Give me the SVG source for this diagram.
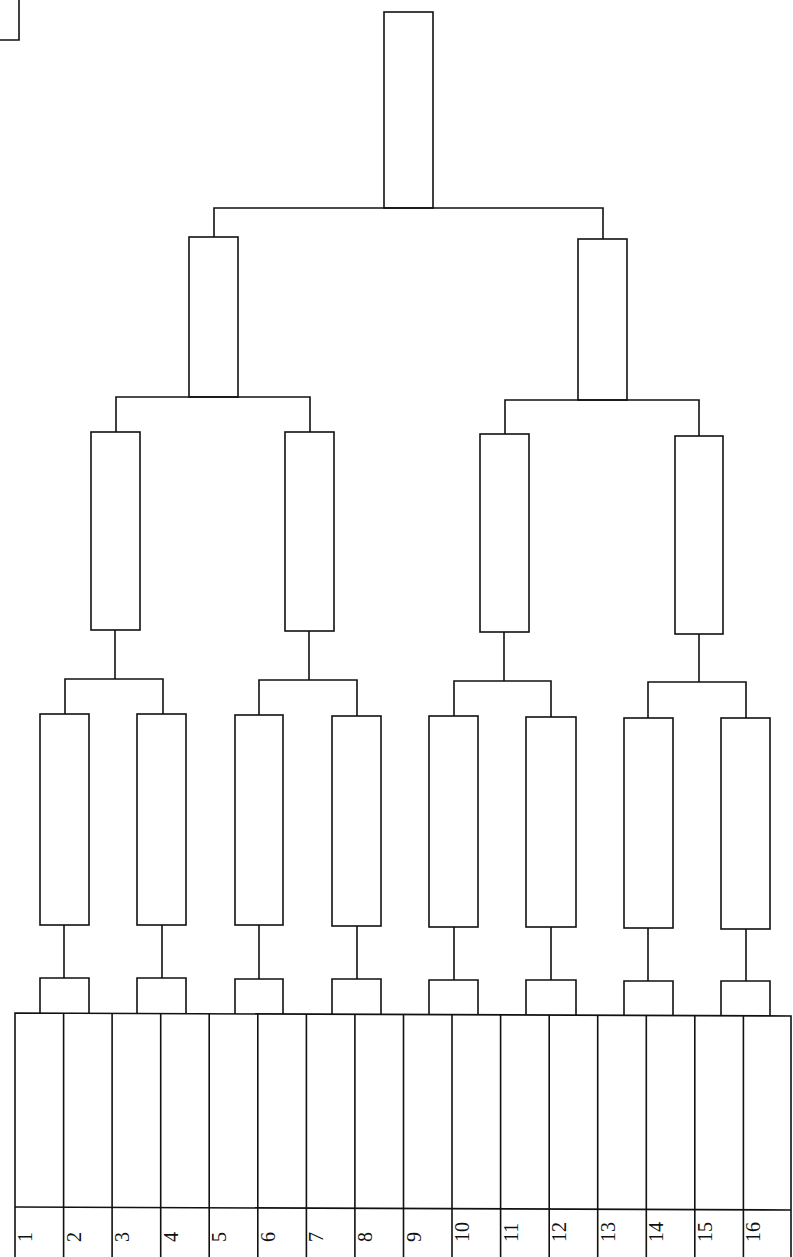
<svg xmlns="http://www.w3.org/2000/svg" width="793" height="1257" viewBox="0 0 793 1257">
<style>
.b{fill:none;stroke:#111;stroke-width:1.6}
.c{fill:none;stroke:#111;stroke-width:1.6}
.t{font-family:"Liberation Serif",serif;font-size:20px;fill:#111}
</style>
<rect width="793" height="1257" fill="#fff"/>
<g id="corner"><path class="b" d="M19,0 V40 H0"/></g>
<g id="final"><rect class="b" x="384" y="12" width="49" height="196"/></g>
<g id="semi-1"><rect class="b" x="189" y="237" width="49" height="160"/></g>
<g id="semi-2"><rect class="b" x="578" y="239" width="49" height="161"/></g>
<g id="qf-1"><rect class="b" x="91" y="432" width="49" height="198"/></g>
<g id="qf-2"><rect class="b" x="285" y="432" width="49" height="199"/></g>
<g id="qf-3"><rect class="b" x="480" y="434" width="49" height="198"/></g>
<g id="qf-4"><rect class="b" x="675" y="436" width="48" height="198"/></g>
<g id="r1-1"><rect class="b" x="40" y="714" width="49" height="211"/></g>
<g id="r1-2"><rect class="b" x="137" y="714" width="49" height="211"/></g>
<g id="r1-3"><rect class="b" x="235" y="715" width="48" height="210"/></g>
<g id="r1-4"><rect class="b" x="332" y="716" width="49" height="210"/></g>
<g id="r1-5"><rect class="b" x="429" y="716" width="49" height="211"/></g>
<g id="r1-6"><rect class="b" x="526" y="717" width="50" height="210"/></g>
<g id="r1-7"><rect class="b" x="624" y="718" width="49" height="210"/></g>
<g id="r1-8"><rect class="b" x="721" y="718" width="49" height="211"/></g>
<g id="pair-1"><path class="b" d="M40,1013 V978 H89 V1013"/></g>
<g id="pair-2"><path class="b" d="M137,1013 V978 H186 V1013"/></g>
<g id="pair-3"><path class="b" d="M235,1014 V979 H283 V1014"/></g>
<g id="pair-4"><path class="b" d="M332,1014 V979 H381 V1014"/></g>
<g id="pair-5"><path class="b" d="M429,1015 V980 H478 V1015"/></g>
<g id="pair-6"><path class="b" d="M526,1015 V980 H576 V1015"/></g>
<g id="pair-7"><path class="b" d="M624,1016 V981 H673 V1016"/></g>
<g id="pair-8"><path class="b" d="M721,1016 V981 H770 V1016"/></g>
<g id="connectors">
<path class="c" d="M214,237 V208 H603 V239"/>
<path class="c" d="M116,432 V397 H310 V432"/>
<path class="c" d="M505,434 V400 H699 V436"/>
<path class="c" d="M65,714 V679 H163 V714 M115,679 V630"/>
<path class="c" d="M259,715 V680 H357 V716 M309,680 V631"/>
<path class="c" d="M454,716 V681 H551 V717 M504,681 V632"/>
<path class="c" d="M648,718 V682 H746 V718 M699,682 V634"/>
<path class="c" d="M64,978 V925 M162,978 V925 M259,979 V925 M357,979 V926 M454,980 V927 M551,980 V927 M648,981 V928 M746,981 V929"/>
</g>
<g id="table">
<path class="b" d="M15,1257 V1013 L791,1016 V1257"/>
<path class="b" d="M15,1207 L791,1210"/>
<path class="b" d="M63.6,1013 V1257 M112.1,1013 V1257 M160.7,1014 V1257 M209.2,1014 V1257 M257.8,1014 V1257 M306.4,1014 V1257 M354.9,1014 V1257 M403.5,1015 V1257 M452,1015 V1257 M500.6,1015 V1257 M549.2,1015 V1257 M597.7,1015 V1257 M646.3,1016 V1257 M694.8,1016 V1257 M743.4,1016 V1257"/>
<g class="t">
<text transform="translate(32,1242) rotate(-90)">1</text>
<text transform="translate(80.6,1242) rotate(-90)">2</text>
<text transform="translate(129.1,1242) rotate(-90)">3</text>
<text transform="translate(177.7,1242) rotate(-90)">4</text>
<text transform="translate(226.2,1242) rotate(-90)">5</text>
<text transform="translate(274.8,1242) rotate(-90)">6</text>
<text transform="translate(323.4,1242) rotate(-90)">7</text>
<text transform="translate(371.9,1242) rotate(-90)">8</text>
<text transform="translate(420.5,1242) rotate(-90)">9</text>
<text transform="translate(469,1242) rotate(-90)">10</text>
<text transform="translate(517.6,1242) rotate(-90)">11</text>
<text transform="translate(566.2,1242) rotate(-90)">12</text>
<text transform="translate(614.7,1242) rotate(-90)">13</text>
<text transform="translate(663.3,1242) rotate(-90)">14</text>
<text transform="translate(711.8,1242) rotate(-90)">15</text>
<text transform="translate(760.4,1242) rotate(-90)">16</text>
</g>
</g>
</svg>
